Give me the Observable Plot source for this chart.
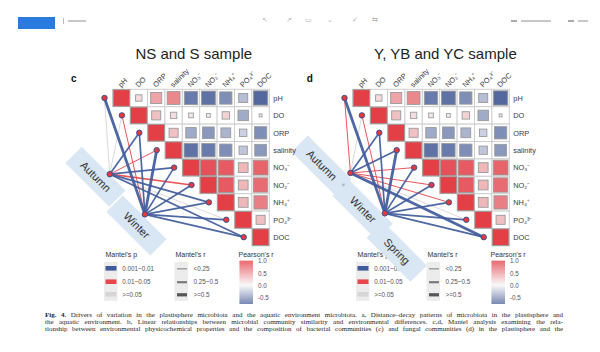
<!DOCTYPE html>
<html><head><meta charset="utf-8">
<script src="https://cdn.jsdelivr.net/npm/d3@7"></script>
<script src="https://cdn.jsdelivr.net/npm/@observablehq/plot@0.6"></script>
<style>
html,body{margin:0;padding:0;background:#fff;}
body{width:600px;height:352px;overflow:hidden;position:relative;font-family:"Liberation Sans",Arial,sans-serif;}
#header{position:relative;height:36px;}
#chart svg{display:block;}
#caption{position:absolute;left:45px;top:311.5px;width:518px;font-family:"Liberation Serif","Times New Roman",serif;font-size:7px;line-height:7.2px;color:#262626;}
#caption .ln{white-space:nowrap;display:block;}
#caption .ln span{white-space:nowrap;}
.ic{position:absolute;top:16px;font-size:7px;color:#b5b5b5;}
.bar{position:absolute;height:1.5px;background:#c8c8c8;}
</style></head><body>
<div id="header">
  <div style="position:absolute;left:18px;top:17px;width:37px;height:12px;background:#2a7be0;"></div>
  <div style="position:absolute;left:63px;top:18px;width:1px;height:6px;background:#bbb;"></div>
  <div class="bar" style="left:68px;top:20px;width:18px;"></div>
  <span class="ic" style="left:262px">↖</span>
  <span class="ic" style="left:286px">↗</span>
  <span class="ic" style="left:305px">▭</span>
  <span class="ic" style="left:327px">⌄</span>
  <span class="ic" style="left:352px">✓</span>
  <span class="ic" style="left:372px">⇆</span>
  <div class="bar" style="left:511px;top:20px;width:6px;background:#aaa"></div>
  <div class="bar" style="left:521px;top:20px;width:30px;"></div>
  <div class="bar" style="left:568px;top:20px;width:6px;background:#aaa"></div>
  <div class="bar" style="left:578px;top:20px;width:10px;"></div>
</div>
<div id="chart"></div>
<div id="caption">
  <span class="ln"><span><b>Fig. 4.</b> Drivers of variation in the plastisphere microbiota and the aquatic environment microbiota. a, Distance–decay patterns of microbiota in the plastisphere and</span></span>
  <span class="ln"><span>the aquatic environment. b, Linear relationships between microbial community similarity and environmental differences. c,d, Mantel analysis examining the rela-</span></span>
  <span class="ln"><span>tionship between environmental physicochemical properties and the composition of bacterial communities (c) and fungal communities (d) in the plastisphere and the</span></span>
</div>
<script>
// ---------------- DATA ----------------
const variables = ["pH","DO","ORP","salinity","NO₃⁻","NO₂⁻","NH₄⁺","PO₄³⁻","DOC"];
// Pearson's r, upper triangle: row i, columns i+1 .. 8
const pearsonRow_pH       = [0.15, 0.45, 0.6, -0.65, -0.7, -0.55, -0.3, -0.75];
const pearsonRow_DO       = [0.3, 0.15, 0.08, 0.05, 0.2, -0.4, 0.03];
const pearsonRow_ORP      = [0.3, -0.4, -0.5, -0.35, -0.2, -0.55];
const pearsonRow_salinity = [-0.7, -0.65, -0.55, -0.25, -0.5];
const pearsonRow_NO3      = [0.9, 0.85, 0.35, 0.8];
const pearsonRow_NO2      = [0.85, 0.35, 0.75];
const pearsonRow_NH4      = [0.35, 0.65];
const pearsonRow_PO4      = [0.3];
const pearsonUpper = [pearsonRow_pH, pearsonRow_DO, pearsonRow_ORP, pearsonRow_salinity,
  pearsonRow_NO3, pearsonRow_NO2, pearsonRow_NH4, pearsonRow_PO4, []];

const panelLetters = ["c", "d"];
const panelTitles = ["NS and S sample", "Y, YB and YC sample"];
const groups_c = ["Autumn", "Winter"];
const groups_d = ["Autumn", "Winter", "Spring"];

const pClasses = ["0.001~0.01", "0.01~0.05", ">=0.05"];
const rClasses = ["<0.25", "0.25~0.5", ">=0.5"];
const pearsonTicks = [1.0, 0.5, 0.0, -0.5];

// Mantel test classes per variable (index into pClasses / rClasses)
const mantelP_c_Autumn = [2, 2, 0, 1, 0, 1, 0, 2, 0];
const mantelR_c_Autumn = [0, 0, 1, 0, 1, 1, 1, 0, 1];
const mantelP_c_Winter = [0, 1, 0, 0, 0, 0, 0, 0, 0];
const mantelR_c_Winter = [2, 0, 1, 2, 1, 1, 1, 1, 1];
const mantelP_d_Autumn = [1, 2, 0, 0, 1, 1, 1, 2, 0];
const mantelR_d_Autumn = [0, 0, 1, 1, 0, 0, 0, 0, 2];
const mantelP_d_Winter = [0, 1, 0, 0, 0, 0, 0, 0, 0];
const mantelR_d_Winter = [2, 0, 1, 2, 1, 1, 1, 1, 1];

// ---------------- STYLE / LAYOUT ----------------
const CELL = 17.4, X0 = 112.7, Y0 = 89.3, TOP = 36, SVG_H = 274;
const PANEL_PX = 240, LEGEND_SHIFT = [0, 252];
const px2x = px => (px - X0) / CELL;
const py2y = py => (py - Y0) / CELL;
const panelOff = pi => pi * PANEL_PX / CELL;
const pColors = ["#3f5b9c", "#e8464c", "#d6d6d6"];
const rWidths = [1.0, 1.7, 2.8];
const rLegendColors = ["#9a9a9a", "#7a7a7a", "#555"];
const rLegendWidths = [1.4, 2.2, 3.2];
const FONT = "Liberation Sans, Arial, sans-serif";
const groupNode = [{Autumn: [-0.2, 4.85], Winter: [1.82, 7.16]}, {Autumn: [-0.16, 4.78], Winter: [1.82, 7.1]}];
const groupLabel = [
  {Autumn: [-1.02, 5.0], Winter: [1.34, 7.8]},
  {Autumn: [-1.82, 4.35], Winter: [0.55, 6.9], Spring: [2.5, 9.3]}
];
const BOX_HALF = 31 / CELL / Math.SQRT2;

// ---------------- TABLES ----------------
const n = variables.length;
const cells = [];
[0, 1].forEach(pi => {
  for (let i = 0; i < n; i++) for (let j = i; j < n; j++) {
    cells.push({pi, i, j, r: j === i ? 1 : pearsonUpper[i][j - i - 1]});
  }
});
const varNodes = [];
[0, 1].forEach(pi => variables.forEach((v, i) => varNodes.push({pi, i, v})));
const nodeX = d => panelOff(d.pi) + d.i - 0.5;
const nodeY = d => d.i + 0.47;

const mantelSets = [
  {pi: 0, g: "Autumn", p: mantelP_c_Autumn, r: mantelR_c_Autumn},
  {pi: 0, g: "Winter", p: mantelP_c_Winter, r: mantelR_c_Winter},
  {pi: 1, g: "Autumn", p: mantelP_d_Autumn, r: mantelR_d_Autumn},
  {pi: 1, g: "Winter", p: mantelP_d_Winter, r: mantelR_d_Winter}
];
const links = [];
mantelSets.forEach(s => variables.forEach((v, i) => links.push({pi: s.pi, g: s.g, i, p: s.p[i], r: s.r[i]})));
const groupNodes = [];
mantelSets.forEach(s => { if (!groupNodes.some(d => d.pi === s.pi && d.g === s.g)) groupNodes.push({pi: s.pi, g: s.g}); });
const groupLabels = [];
[groups_c, groups_d].forEach((gs, pi) => gs.forEach(g => groupLabels.push({pi, g})));

const side = r => Math.sqrt(Math.abs(r)) * 0.95;

const marks = [];
// titles and panel letters
marks.push(Plot.text(panelTitles.map((t, pi) => ({t, pi})), {
  x: d => panelOff(d.pi) + (d.pi === 0 ? 4.63 : 5.3), y: d => py2y(54), text: "t",
  fontSize: 15, fill: "#222", fontFamily: FONT}));
marks.push(Plot.text(panelLetters.map((t, pi) => ({t, pi})), {
  x: d => panelOff(d.pi) + (d.pi === 0 ? -2.26 : -2.49), y: d => -0.66, text: "t",
  fontSize: 10, fontWeight: "bold", fill: "#111", fontFamily: FONT}));

// legends (drawn before group boxes so the boxes can cover them)
[0, 1].forEach(pi => {
  const bx = 105 + LEGEND_SHIFT[pi];
  const X = dx => px2x(bx + dx);
  const rowY = [268.3, 281.7, 294.3];
  marks.push(Plot.text([["Mantel's p", 0], ["Mantel's r", 70], ["Pearson's r", 133]], {
    x: d => X(d[1]), y: d => py2y(254), text: d => d[0], textAnchor: "start",
    fontSize: 7, fill: "#333", fontFamily: FONT}));
  marks.push(Plot.rect([0], {x1: () => X(-1), x2: () => X(12.5), y1: () => py2y(261.8), y2: () => py2y(300.8), fill: "#ececec"}));
  marks.push(Plot.rect([0], {x1: () => X(69.5), x2: () => X(83), y1: () => py2y(261.8), y2: () => py2y(300.8), fill: "#ececec"}));
  pClasses.forEach((c, k) => {
    marks.push(Plot.rect([c], {x1: () => X(0.5), x2: () => X(11.5), y1: () => py2y(rowY[k] - 2.3), y2: () => py2y(rowY[k] + 2.3), fill: pColors[k]}));
  });
  marks.push(Plot.text(pClasses, {x: () => X(16.7), y: (d, k) => py2y(rowY[k]), text: d => d, textAnchor: "start", fontSize: 6.3, fill: "#555", fontFamily: FONT}));
  rClasses.forEach((c, k) => {
    marks.push(Plot.link([c], {x1: () => X(71.5), x2: () => X(81.5), y1: () => py2y(rowY[k]), y2: () => py2y(rowY[k]), stroke: rLegendColors[k], strokeWidth: rLegendWidths[k]}));
  });
  marks.push(Plot.text(rClasses, {x: () => X(88), y: (d, k) => py2y(rowY[k]), text: d => d, textAnchor: "start", fontSize: 6.3, fill: "#555", fontFamily: FONT}));
  // Pearson colour bar through the colour scale
  const lo = -0.75, hi = 1.0, top = 260.7, bot = 304;
  const vy = v => py2y(bot - (v - lo) / (hi - lo) * (bot - top));
  const slices = d3.range(lo, hi, 0.025).map(v => ({v}));
  marks.push(Plot.rect(slices, {x1: () => X(134.5), x2: () => X(148), y1: d => vy(d.v), y2: d => vy(Math.min(hi, d.v + 0.026)), fill: "v"}));
  marks.push(Plot.text(pearsonTicks, {x: () => X(152.5), y: d => vy(d), text: d => d.toFixed(1), textAnchor: "start", fontSize: 6.3, fill: "#555", fontFamily: FONT}));
});

// group label boxes (rotated bands)
const labelPos = d => groupLabel[d.pi][d.g];
marks.push(Plot.link(groupLabels, {
  x1: d => panelOff(d.pi) + labelPos(d)[0] - BOX_HALF, y1: d => labelPos(d)[1] - BOX_HALF,
  x2: d => panelOff(d.pi) + labelPos(d)[0] + BOX_HALF, y2: d => labelPos(d)[1] + BOX_HALF,
  stroke: "#d9e6f3", strokeWidth: 23, strokeLinecap: "butt"}));
marks.push(Plot.text(groupLabels, {
  x: d => panelOff(d.pi) + labelPos(d)[0], y: d => labelPos(d)[1], text: "g", rotate: 45,
  fontSize: 11, fill: "#333", fontFamily: FONT}));
marks.push(Plot.text([{pi: 1}], {x: d => panelOff(1) + px2x(343) - px2x(352.7) + px2x(112.7), y: () => py2y(184), text: () => "±", fontSize: 5, fill: "#777", rotate: 45}));

// Mantel links (grey, red, blue order)
[2, 1, 0].forEach(pc => {
  marks.push(Plot.link(links.filter(d => d.p === pc), {
    x1: d => panelOff(d.pi) + groupNode[d.pi][d.g][0], y1: d => groupNode[d.pi][d.g][1],
    x2: d => panelOff(d.pi) + d.i - 0.5, y2: d => d.i + 0.47,
    stroke: pColors[pc], strokeWidth: d => rWidths[d.r], strokeOpacity: 0.92}));
});

// correlation matrix cells
marks.push(Plot.rect(cells, {
  x1: d => panelOff(d.pi) + d.j, x2: d => panelOff(d.pi) + d.j + 1, y1: d => d.i, y2: d => d.i + 1,
  fill: "white", stroke: "#cfcfcf", strokeWidth: 1}));
marks.push(Plot.rect(cells, {
  x1: d => panelOff(d.pi) + d.j + 0.5 - side(d.r) / 2, x2: d => panelOff(d.pi) + d.j + 0.5 + side(d.r) / 2,
  y1: d => d.i + 0.5 - side(d.r) / 2, y2: d => d.i + 0.5 + side(d.r) / 2,
  fill: "r", stroke: "#9a9a9a", strokeWidth: 0.9}));

// axis-like labels
marks.push(Plot.text(varNodes, {x: d => panelOff(d.pi) + d.i + 0.36, y: () => -0.22, text: "v", rotate: -45,
  textAnchor: "start", fontSize: 7.4, fill: "#3a3a3a", fontFamily: FONT}));
marks.push(Plot.text(varNodes, {x: d => panelOff(d.pi) + n + 0.2, y: d => d.i + 0.5, text: "v",
  textAnchor: "start", fontSize: 7.4, fill: "#3a3a3a", fontFamily: FONT}));

// nodes
marks.push(Plot.dot(varNodes, {x: nodeX, y: nodeY, r: 2.7, fill: "#e8383d", stroke: "#3b4f8f", strokeWidth: 1}));
marks.push(Plot.dot(groupNodes, {x: d => panelOff(d.pi) + groupNode[d.pi][d.g][0], y: d => groupNode[d.pi][d.g][1],
  r: 2.7, fill: "#e8383d", stroke: "#3b4f8f", strokeWidth: 1}));

const chart = Plot.plot({
  width: 600, height: SVG_H,
  marginTop: 0, marginRight: 0, marginBottom: 0, marginLeft: 0,
  x: {domain: [px2x(0), px2x(600)], range: [0, 600], axis: null},
  y: {domain: [py2y(TOP), py2y(TOP + SVG_H)], range: [0, SVG_H], axis: null},
  color: {type: "linear", domain: [-0.75, 0, 1], range: ["#53689f", "#f7f7f7", "#e23f47"], clamp: true},
  style: {fontFamily: FONT, background: "transparent", overflow: "visible"},
  marks
});
document.getElementById("chart").appendChild(chart);

// justify caption lines
document.querySelectorAll("#caption .ln > span").forEach(s => {
  const w = s.getBoundingClientRect().width;
  const spaces = (s.textContent.match(/ /g) || []).length;
  if (spaces) s.style.wordSpacing = ((518 - w) / spaces) + "px";
});
</script>
</body></html>
